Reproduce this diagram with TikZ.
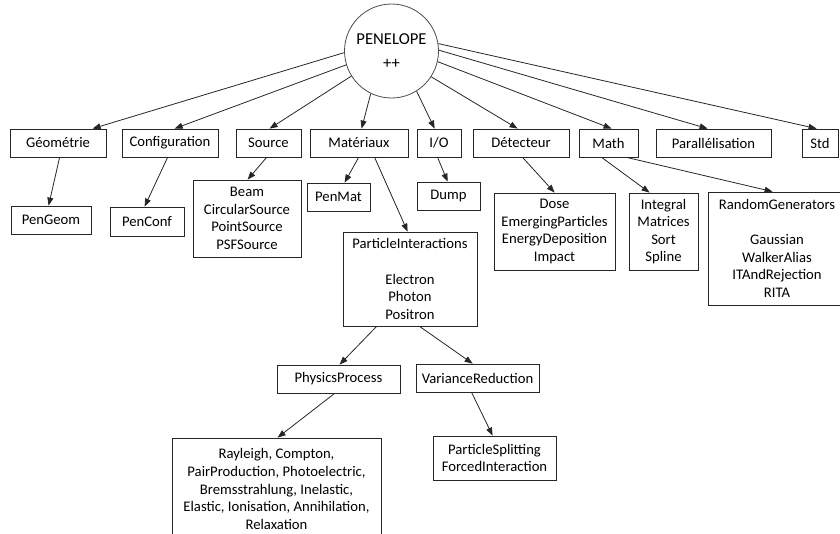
\documentclass[tikz,border=0pt]{standalone}
\usepackage{fontspec}
\setmainfont{Carlito}
\usetikzlibrary{calc,arrows.meta}
\tikzset{
  box/.style={draw=black!85, line width=0.6pt, inner sep=0pt, align=center,
    font=\fontsize{11}{13.2}\selectfont},
  conn/.style={draw=black!85, line width=0.6pt, -{Triangle[length=6pt,width=4.5pt]}},
  hub/.style={circle, draw=black!70, line width=0.6pt, inner sep=0pt, align=center,
    minimum size=70.5pt, font=\fontsize{12.5}{18.5}\selectfont}
}
\newcommand\bx[6]{\node[box, minimum width={(#4-#2)*0.75pt}, minimum height={(#5-#3)*0.75pt}] (#1) at ({(#2+#4)/2},{(#3+#5)/2}) {#6};}
\newcommand\arr[4]{\draw[conn] ($(#1.south west)+(#2,0)$) -- ($(#3.north west)+(#4,0)$);}
\newcommand\harr[3]{\draw[conn] (pen.#1) -- ($(#2.north west)+(#3,0)$);}
\begin{document}
\begin{tikzpicture}[x=0.75pt,y=-0.75pt]
\useasboundingbox (0,0) rectangle (840,533);
\node[hub] (pen) at (391.5,51) {PENELOPE\\++};
% top row
\bx{geo}{10}{129}{106}{157}{Géométrie}
\bx{conf}{122}{129}{218}{157}{Configuration}
\bx{src}{236}{129}{301}{157}{Source}
\bx{mat}{310}{129}{408}{157}{Matériaux}
\bx{io}{417}{129}{461}{157}{I/O}
\bx{det}{473}{129}{569}{157}{Détecteur}
\bx{math}{579}{129}{638}{157}{Math}
\bx{par}{656}{129}{771}{157}{Parallélisation}
\bx{std}{802}{129}{838}{157}{Std}
% second row
\bx{pengeom}{11}{206}{91}{234}{PenGeom}
\bx{penconf}{110}{207}{184}{236}{PenConf}
\bx{srclist}{193}{180}{301}{257}{Beam\\CircularSource\\PointSource\\PSFSource}
\bx{penmat}{307}{183}{370}{211}{PenMat}
\bx{dump}{417}{182}{480}{210}{Dump}
\bx{pi}{343}{232}{477}{326}{ParticleInteractions\\[13.2pt]Electron\\Photon\\Positron}
\bx{detlist}{494}{193}{615}{270}{Dose\\EmergingParticles\\EnergyDeposition\\Impact}
\bx{mathlist}{629}{193}{698}{270}{Integral\\Matrices\\Sort\\Spline}
\begin{scope}
\clip (0,0) rectangle (840,533);
\bx{rng}{708}{192}{846}{305}{RandomGenerators\\[13.2pt]Gaussian\\WalkerAlias\\ITAndRejection\\RITA}
\bx{physlist}{172}{438}{381}{540}{Rayleigh, Compton,\\PairProduction, Photoelectric,\\Bremsstrahlung, Inelastic,\\Elastic, Ionisation, Annihilation,\\Relaxation}
\end{scope}
% third row
\bx{phys}{277}{365}{400}{393}{PhysicsProcess}
\bx{var}{416}{364}{539}{392}{VarianceReduction}
\bx{split}{433}{436}{556}{480}{ParticleSplitting\\ForcedInteraction}
% hub connectors
\harr{182}{geo}{83}
\harr{197}{conf}{53}
\harr{212}{src}{34}
\harr{244}{mat}{52}
\harr{302}{io}{18}
\harr{327}{det}{45}
\harr{347}{math}{33}
\harr{1}{par}{52}
\harr{9}{std}{15}
% lower connectors
\arr{geo}{50}{pengeom}{38}
\arr{conf}{46}{penconf}{35}
\arr{src}{31}{srclist}{55}
\arr{mat}{49}{penmat}{38}
\arr{mat}{65}{pi}{65}
\arr{io}{21}{dump}{31}
\arr{det}{50}{detlist}{61}
\arr{math}{23}{mathlist}{21}
\arr{math}{48}{rng}{65}
\arr{pi}{34}{phys}{63}
\arr{pi}{77}{var}{57}
\arr{phys}{58}{physlist}{106}
\arr{var}{56}{split}{60}
\end{tikzpicture}
\end{document}
